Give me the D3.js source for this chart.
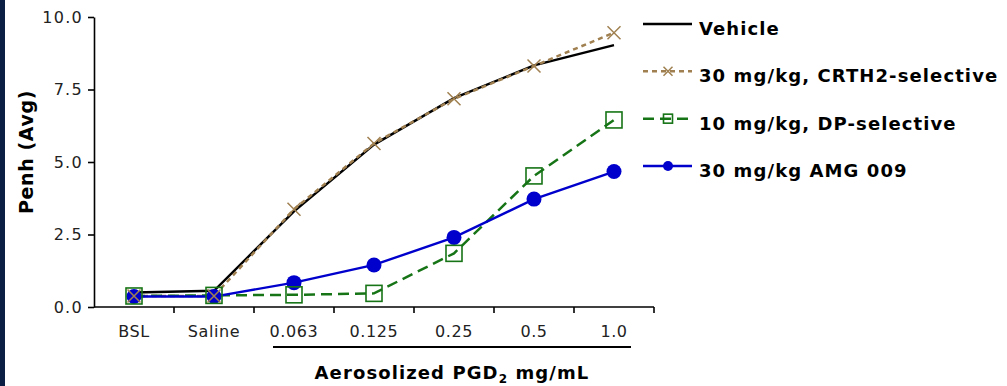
<!DOCTYPE html>
<html>
<head>
<meta charset="utf-8">
<script src="https://cdn.jsdelivr.net/npm/d3@7"></script>
<style>
  html, body { margin: 0; padding: 0; background: #fff; }
  svg text { font-family: "DejaVu Sans", Verdana, sans-serif; }
</style>
</head>
<body>
<div id="chart"></div>
<script>
// categories on the x axis
var doses = ['BSL', 'Saline', '0.063', '0.125', '0.25', '0.5', '1.0'];
var yTicks = [0, 2.5, 5, 7.5, 10];

// series values, Penh (Avg)
var vehicle = [0.5, 0.56, 3.3, 5.6, 7.2, 8.33, 9.03];
var crth2 = [0.38, 0.38, 3.37, 5.64, 7.18, 8.31, 9.46];
var dpSel = [0.38, 0.4, 0.42, 0.47, 1.85, 4.52, 6.45];
var amg009 = [0.36, 0.36, 0.84, 1.45, 2.4, 3.72, 4.67];

var seriesNames = ['Vehicle', '30 mg/kg, CRTH2-selective', '10 mg/kg, DP-selective', '30 mg/kg AMG 009'];

var styles = [
    { values: vehicle, color: '#000000', width: 2.4, dash: null, marker: 'none' },
    { values: crth2, color: '#a08050', width: 2.5, dash: '5,4', marker: 'cross' },
    { values: dpSel, color: '#167416', width: 2.5, dash: '11,6', marker: 'square' },
    { values: amg009, color: '#0000cc', width: 2.4, dash: null, marker: 'circle' }
];

var W = 1007, H = 386;
var svg = d3.select('#chart').append('svg').attr('width', W).attr('height', H);

// dark strip on the left edge
svg.append('rect').attr('x', 0).attr('y', 0).attr('width', 5).attr('height', H).attr('fill', '#0b1f45');

var x = d3.scaleBand().domain(doses).range([94, 654]).padding(0);
var y = d3.scaleLinear().domain([0, 10]).range([307, 17]);
var cx = function (i) { return x(doses[i]) + x.bandwidth() / 2; };

// y axis
var yAxis = svg.append('g')
    .attr('transform', 'translate(94,0)')
    .call(d3.axisLeft(y).tickValues(yTicks).tickFormat(d3.format('.1f')).tickSize(6).tickSizeOuter(0).tickPadding(5));
yAxis.select('.domain').attr('stroke', '#000').attr('stroke-width', 1.6);
yAxis.selectAll('.tick line').attr('stroke', '#000').attr('stroke-width', 1.6);
yAxis.selectAll('.tick text')
    .attr('font-size', '16px').attr('letter-spacing', '1.3px').attr('fill', '#222')
    .attr('font-family', '"DejaVu Sans", Verdana, sans-serif');

// x axis: line, ticks between the categories, labels at centres
var xAxis = svg.append('g');
xAxis.append('line').attr('x1', 94).attr('x2', 654).attr('y1', 307).attr('y2', 307)
    .attr('stroke', '#000').attr('stroke-width', 1.6);
xAxis.selectAll('line.tk')
    .data(doses.slice(1).map(function (d) { return x(d); }).concat([x.range()[1]]))
    .enter().append('line').attr('class', 'tk')
    .attr('x1', function (d) { return d; }).attr('x2', function (d) { return d; })
    .attr('y1', 307).attr('y2', 313)
    .attr('stroke', '#000').attr('stroke-width', 1.6);
xAxis.selectAll('text')
    .data(doses).enter().append('text')
    .attr('x', function (d, i) { return cx(i); })
    .attr('y', 337)
    .attr('text-anchor', 'middle')
    .attr('font-size', '16px').attr('letter-spacing', '0.6px').attr('fill', '#222')
    .text(function (d) { return d; });

// bracket under the PGD2 doses
svg.append('line')
    .attr('x1', x('0.063') + 19).attr('x2', x('1.0') + x.bandwidth() - 23)
    .attr('y1', 347).attr('y2', 347)
    .attr('stroke', '#000').attr('stroke-width', 2);

// axis titles
var xTitle = svg.append('text')
    .attr('x', 452).attr('y', 379)
    .attr('text-anchor', 'middle')
    .attr('font-size', '18px').attr('font-weight', 'bold').attr('letter-spacing', '1.1px');
xTitle.append('tspan').text('Aerosolized PGD');
xTitle.append('tspan').attr('font-size', '12px').attr('dy', 4).text('2');
xTitle.append('tspan').attr('dy', -4).text(' mg/mL');

svg.append('text')
    .attr('transform', 'translate(33,152) rotate(-90)')
    .attr('text-anchor', 'middle')
    .attr('font-size', '19px').attr('font-weight', 'bold').attr('letter-spacing', '0.6px')
    .text('Penh (Avg)');

// lines
var line = d3.line().x(function (d, i) { return cx(i); }).y(function (d) { return y(d); });
styles.forEach(function (s) {
    svg.append('path')
        .datum(s.values)
        .attr('d', line)
        .attr('fill', 'none')
        .attr('stroke', s.color)
        .attr('stroke-width', s.width)
        .attr('stroke-dasharray', s.dash);
});

function drawMarker(g, kind, color, px, py, size) {
    if (kind === 'circle') {
        g.append('circle').attr('cx', px).attr('cy', py).attr('r', size).attr('fill', color);
    } else if (kind === 'square') {
        g.append('rect').attr('x', px - size).attr('y', py - size)
            .attr('width', size * 2).attr('height', size * 2)
            .attr('fill', 'none').attr('stroke', color).attr('stroke-width', 1.6);
    } else if (kind === 'cross') {
        g.append('path')
            .attr('d', 'M' + (px - size) + ',' + (py - size) + 'L' + (px + size) + ',' + (py + size) +
                'M' + (px - size) + ',' + (py + size) + 'L' + (px + size) + ',' + (py - size))
            .attr('stroke', color).attr('stroke-width', 1.5).attr('fill', 'none');
    }
}

// markers: circles, then squares, then crosses on top
var markerOrder = [3, 2, 1];
var markerSize = { circle: 7.5, square: 8, cross: 6.5 };
markerOrder.forEach(function (k) {
    var s = styles[k];
    var g = svg.append('g');
    s.values.forEach(function (v, i) {
        drawMarker(g, s.marker, s.color, cx(i), y(v), markerSize[s.marker]);
    });
});

// legend
var legend = svg.append('g');
var legendY = d3.scalePoint().domain(seriesNames).range([24, 166]);
seriesNames.forEach(function (name, k) {
    var s = styles[k];
    var ly = legendY(name);
    var g = legend.append('g');
    g.append('line').attr('x1', 643).attr('x2', 692).attr('y1', ly).attr('y2', ly)
        .attr('stroke', s.color).attr('stroke-width', s.width)
        .attr('stroke-dasharray', s.dash);
    var lsize = { circle: 5, square: 4.5, cross: 4.5 };
    drawMarker(g, s.marker, s.color, 668, ly, lsize[s.marker]);
    g.append('text').attr('x', 699).attr('y', ly + 11)
        .attr('font-size', '18px').attr('font-weight', 'bold').attr('letter-spacing', '1.1px')
        .attr('fill', '#000')
        .text(name);
});
</script>
</body>
</html>
